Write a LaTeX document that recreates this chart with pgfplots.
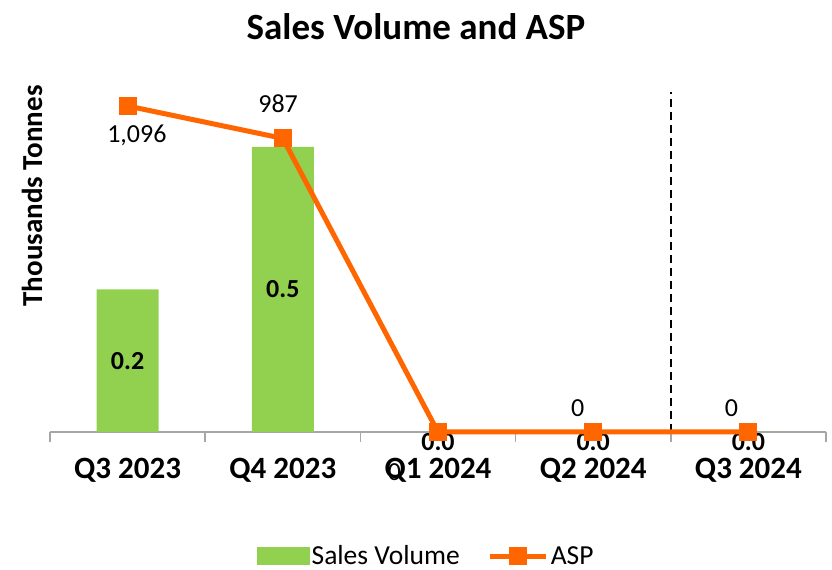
\documentclass[border=0pt]{standalone}
\usepackage{pgfplots}
\pgfplotsset{compat=1.18}
\usepackage{fontspec}
\setmainfont{Carlito}
\definecolor{barGreen}{HTML}{92D050}
\definecolor{aspOrange}{HTML}{FF6600}
\definecolor{axGray}{HTML}{A6A6A6}
\newcommand{\fs}[1]{\fontsize{#1bp}{#1bp}\selectfont}
\pgfplotsset{
  asp legend/.style={legend image code/.code={\draw[mark repeat=2,mark phase=2,##1] plot coordinates {(0bp,0bp) (28bp,0bp) (56bp,0bp)};}},
  bar legend green/.style={legend image code/.code={\fill[barGreen] (0bp,-8.5bp) rectangle (52bp,8.5bp);}},
}
\begin{document}
\begin{tikzpicture}[x=1bp,y=1bp]
\useasboundingbox (0,0) rectangle (832,570);
\node[font=\bfseries\fs{37}] at (416,543) {Sales Volume and ASP};
\node[font=\bfseries\fs{29}, rotate=90] at (32,374) {Thousands Tonnes};
\begin{axis}[
  at={(50bp,138bp)}, anchor=south west,
  scale only axis, width=776bp, height=340bp,
  xmin=-0.5, xmax=4.5, ymin=0, ymax=0.5965,
  clip=false,
  axis y line=none,
  axis x line*=bottom,
  x axis line style={-, draw=axGray, line width=1.5bp},
  xtick={0,1,2,3,4},
  xticklabels={Q3 2023,Q4 2023,Q1 2024,Q2 2024,Q3 2024},
  major tick length=0pt,
  minor xtick={-0.5,0.5,1.5,2.5,3.5,4.5},
  minor tick length=10bp,
  tick align=outside,
  minor tick style={draw=axGray, line width=1.5bp},
  xticklabel style={font=\bfseries\fs{31}, yshift=-23bp},
]
\addplot[ybar, bar width=62bp, fill=barGreen, draw=none]
  coordinates {(0,0.25) (1,0.5) (2,0) (3,0) (4,0)};
\draw[black, line width=1.5bp, dash pattern=on 8bp off 5bp] (axis cs:3.5,0) -- (axis cs:3.5,0.5965);
\node[font=\bfseries\fs{26}] at (axis cs:0,0.125) {0.2};
\node[font=\bfseries\fs{26}] at (axis cs:1,0.25) {0.5};
\node[font=\bfseries\fs{26}, anchor=north, inner sep=1bp] at (axis cs:2,0) {0.0};
\node[font=\bfseries\fs{26}, anchor=north, inner sep=1bp] at (axis cs:3,0) {0.0};
\node[font=\bfseries\fs{26}, anchor=north, inner sep=1bp] at (axis cs:4,0) {0.0};
\end{axis}
\begin{axis}[
  at={(50bp,138bp)}, anchor=south west,
  scale only axis, width=776bp, height=340bp,
  xmin=-0.5, xmax=4.5, ymin=0, ymax=1143,
  clip=false,
  hide axis,
  legend style={at={(0.485,-0.365)}, anchor=center, draw=none, fill=none,
    legend columns=2, font=\fs{27.5},
    /tikz/every even column/.append style={column sep=26bp}},
  legend cell align=left,
]
\addlegendimage{bar legend green}
\addlegendentry{Sales Volume}
\addplot[aspOrange, line width=5bp, mark=square*, mark size=6.5bp,
  mark options={solid}, asp legend]
  coordinates {(0,1096) (1,987) (2,0) (3,0) (4,0)};
\addlegendentry{ASP}
\node[font=\fs{26}] at (axis cs:0.06,998) {1,096};
\node[font=\fs{26}] at (axis cs:0.97,1105) {987};
\node[font=\fs{26}] at (axis cs:2.90,81) {0};
\node[font=\fs{26}] at (axis cs:3.89,81) {0};
\node[font=\fs{26}] at (axis cs:1.72,-135) {0};
\end{axis}
\end{tikzpicture}
\end{document}
